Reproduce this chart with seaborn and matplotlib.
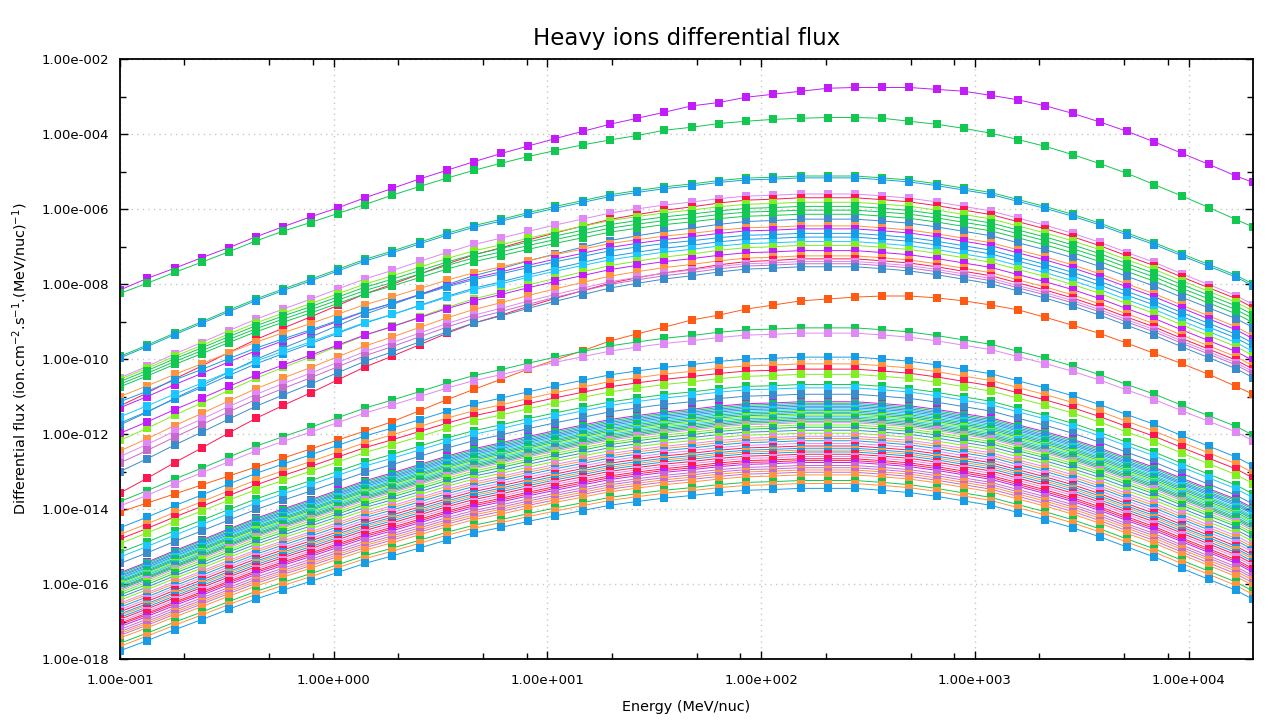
import numpy as np
import pandas as pd
import matplotlib
matplotlib.use('Agg')
import matplotlib.pyplot as plt
import matplotlib.ticker as mticker
import seaborn as sns

# energy grid of the markers (MeV/nuc)
energy = [0.1, 0.134, 0.180, 0.241, 0.323, 0.433, 0.581, 0.779, 1.044, 1.40,
          1.88, 2.52, 3.37, 4.52, 6.07, 8.13, 10.9, 14.6, 19.6, 26.3,
          35.2, 47.3, 63.4, 85.0, 114, 153, 205, 274, 368, 493,
          662, 887, 1190, 1594, 2138, 2866, 3842, 5152, 6907, 9262,
          12417, 16650, 20000]

# log10 flux of the top (purple) curve, read marker by marker
h_flux = [-8.16, -7.85, -7.58, -7.30, -7.03, -6.74, -6.47, -6.21, -5.97, -5.70,
          -5.45, -5.20, -4.97, -4.74, -4.52, -4.32, -4.12, -3.93, -3.74, -3.58,
          -3.42, -3.25, -3.16, -3.02, -2.94, -2.86, -2.78, -2.76, -2.76, -2.76,
          -2.81, -2.86, -2.97, -3.09, -3.25, -3.45, -3.68, -3.93, -4.21, -4.51,
          -4.81, -5.12, -5.29]

# log10 flux of the second (green) curve
he_flux = [-8.25, -7.98, -7.69, -7.42, -7.14, -6.85, -6.59, -6.36, -6.12, -5.88,
           -5.63, -5.40, -5.18, -4.97, -4.78, -4.60, -4.44, -4.29, -4.16, -4.04,
           -3.90, -3.82, -3.72, -3.66, -3.61, -3.58, -3.56, -3.56, -3.58, -3.66,
           -3.74, -3.85, -3.98, -4.15, -4.33, -4.55, -4.79, -5.05, -5.35, -5.65,
           -5.96, -6.28, -6.48]

# log10 flux of the lone orange-red curve
or_flux = [-14.08, -13.84, -13.60, -13.36, -13.12, -12.88, -12.64, -12.40, -12.16, -11.92,
           -11.67, -11.38, -11.09, -10.81, -10.54, -10.27, -10.02, -9.78, -9.52, -9.33,
           -9.15, -8.96, -8.83, -8.67, -8.56, -8.45, -8.40, -8.35, -8.32, -8.32,
           -8.37, -8.45, -8.56, -8.69, -8.89, -9.10, -9.32, -9.58, -9.85, -10.12,
           -10.41, -10.73, -10.94]

# shape of the lowest curve, log10 relative to its peak
ion_shape = [-4.33, -4.06, -3.77, -3.50, -3.22, -2.95, -2.71, -2.48, -2.24, -2.00,
             -1.80, -1.59, -1.38, -1.19, -1.04, -0.88, -0.73, -0.59, -0.45, -0.35,
             -0.26, -0.19, -0.11, -0.05, -0.03, 0.0, 0.0, 0.0, -0.05, -0.11,
             -0.21, -0.33, -0.45, -0.64, -0.83, -1.04, -1.28, -1.55, -1.81, -2.11,
             -2.40, -2.69, -2.93]

# per-ion readings: log10 flux at the peak, at 0.1 MeV/nuc and at 2e4 MeV/nuc
ion_peak = [-5.12, -5.17,
            -5.60, -5.70, -5.82, -5.93, -6.03, -6.14, -6.27,
            -6.45, -6.53, -6.65, -6.75, -6.87, -6.97, -7.11, -7.25, -7.33, -7.40, -7.46, -7.54,
            -9.17, -9.31,
            -9.95, -10.13, -10.27, -10.41, -10.68, -10.77, -10.94,
            -11.14, -11.18, -11.22, -11.26, -11.30, -11.34, -11.38, -11.42, -11.46, -11.50,
            -11.54, -11.58, -11.62, -11.66, -11.70, -11.76, -11.82, -11.90, -11.98, -12.06,
            -12.12, -12.18, -12.25, -12.32, -12.38, -12.43, -12.48, -12.54, -12.60, -12.66,
            -12.71, -12.76, -12.84, -12.90, -12.96, -13.02, -13.09, -13.24, -13.32, -13.45]
ion_left = [-9.93, -9.97,
            -10.50, -11.25, -10.54, -10.60, -10.67, -10.74, -11.76,
            -11.00, -11.30, -11.14, -11.71, -11.54, -12.17, -11.98, -12.45, -13.57, -12.60, -12.77, -13.00,
            -13.80, -13.92,
            -14.50, -14.68, -14.80, -14.92, -15.16, -15.28, -15.45,
            -15.70, -15.73, -15.77, -15.80, -15.84, -15.87, -15.91, -15.94, -15.97, -16.01,
            -16.04, -16.08, -16.11, -16.14, -16.18, -16.23, -16.29, -16.36, -16.43, -16.51,
            -16.56, -16.62, -16.68, -16.74, -16.80, -16.84, -16.89, -16.94, -17.00, -17.05,
            -17.09, -17.14, -17.21, -17.27, -17.32, -17.37, -17.44, -17.58, -17.66, -17.78]
ion_right = [-8.00, -8.05,
             -8.55, -8.63, -8.72, -8.82, -8.92, -9.03, -9.16,
             -9.38, -9.46, -9.58, -9.68, -9.80, -9.91, -10.04, -10.18, -10.27, -10.34, -10.40, -10.50,
             -12.03, -12.18,
             -12.85, -13.03, -13.17, -13.32, -13.60, -13.70, -13.87,
             -13.97, -14.01, -14.06, -14.10, -14.14, -14.19, -14.23, -14.27, -14.32, -14.36,
             -14.40, -14.45, -14.49, -14.53, -14.58, -14.64, -14.70, -14.79, -14.87, -14.95,
             -15.02, -15.08, -15.15, -15.23, -15.29, -15.34, -15.40, -15.46, -15.52, -15.59,
             -15.64, -15.69, -15.78, -15.84, -15.90, -15.97, -16.04, -16.19, -16.28, -16.41]
ion_color = ['gr', 'bl',
             'pk', 'rd', 'lg', 'gr', 'gr', 'gr', 'st',
             'or', 'pu', 'bl', 'bl', 'cy', 'lg', 'pu', 'or', 'rd', 'pk', 'oc', 'st',
             'gr', 'pk',
             'bl', 'or', 'rd', 'lg', 'gr', 'cy', 'st',
             'pu', 'gr', 'bl', 'st', 'bl', 'cy', 'gr', 'bl', 'gr', 'lg',
             'cy', 'gr', 'st', 'gr', 'pk', 'lg', 'gr', 'st', 'lg', 'pk',
             'or', 'bl', 'pk', 'rd', 'bl', 'or', 'bl', 'rd', 'pk', 'rd',
             'rd', 'pu', 'oc', 'oc', 'or', 'oc', 'or', 'gr', 'or', 'bl']

cmap = {'pu': '#c21cfa', 'gr': '#12c850', 'bl': '#179ce6', 'or': '#ff9440',
        'rd': '#ff1850', 'lg': '#80ee20', 'st': '#3a8ccc', 'pk': '#e088f5',
        'oc': '#c66ad0', 'cy': '#1ac8ff', 'ore': '#ff5a14'}

# build the long table
shape = np.array(ion_shape)
top = int(np.argmax(shape))
rows = []
colors = []
names = []


def add(name, logs, col):
    names.append(name)
    colors.append(cmap[col])
    for e, v in zip(energy, logs):
        rows.append((name, e, 10.0 ** v))


add('H', h_flux, 'pu')
add('He', he_flux, 'gr')
for k in range(len(ion_peak)):
    p, l, r = ion_peak[k], ion_left[k], ion_right[k]
    logs = np.where(np.arange(len(shape)) <= top,
                    p + shape * (l - p) / shape[0],
                    p + shape * (r - p) / shape[-1])
    add('ion%d' % k, logs, ion_color[k])
    if k == 20:
        add('ored', or_flux, 'ore')

df = pd.DataFrame(rows, columns=['series', 'energy', 'flux'])

plt.rcParams['font.family'] = ['DejaVu Sans']
fig = plt.figure(figsize=(12.8, 7.2), dpi=100)
ax = fig.add_axes([120 / 1280, 61 / 720, 1133 / 1280, 600 / 720])

sns.lineplot(data=df, x='energy', y='flux', hue='series', hue_order=names,
             palette=colors, marker='s', markersize=5.8, markeredgewidth=0,
             linewidth=0.7, legend=False, sort=False, errorbar=None,
             estimator=None, ax=ax)

ax.set_xscale('log')
ax.set_yscale('log')
ax.set_xlim(0.1, 2e4)
ax.set_ylim(1e-18, 1e-2)


def sci(v, pos=None):
    if v <= 0:
        return ''
    e = int(np.floor(np.log10(v) + 1e-9))
    m = v / 10.0 ** e
    return '%.2fe%+04d' % (m, e)


ax.yaxis.set_major_locator(mticker.FixedLocator([10.0 ** k for k in range(-18, -1, 2)]))
ax.yaxis.set_minor_locator(mticker.FixedLocator([10.0 ** k for k in range(-17, -2, 2)]))
ax.yaxis.set_major_formatter(mticker.FuncFormatter(sci))
ax.yaxis.set_minor_formatter(mticker.NullFormatter())
ax.xaxis.set_major_locator(mticker.FixedLocator([10.0 ** k for k in range(-1, 5)]))
ax.xaxis.set_minor_locator(mticker.FixedLocator(
    [s * 10.0 ** k for k in range(-1, 5) for s in (2, 5, 8) if s * 10.0 ** k < 2e4]))
ax.xaxis.set_major_formatter(mticker.FuncFormatter(sci))
ax.xaxis.set_minor_formatter(mticker.NullFormatter())

ax.tick_params(which='both', direction='in', top=True, right=True,
               labelsize=9.5, width=1, color='black', pad=8)
ax.tick_params(axis='x', which='major', pad=11)
ax.tick_params(which='major', length=6)
ax.tick_params(which='minor', length=4)
ax.grid(which='major', color='#c8c8c8', linestyle=(0, (1, 3)), linewidth=1)
for s in ax.spines.values():
    s.set_linewidth(1.3)
    s.set_color('black')

ax.set_title('Heavy ions differential flux', fontsize=16.5, pad=10)
ax.set_xlabel('Energy (MeV/nuc)', fontsize=10.4, labelpad=9)
ax.set_ylabel('Differential flux (ion.cm$^{-2}$.s$^{-1}$.(MeV/nuc)$^{-1}$)',
              fontsize=10.4, labelpad=8)

fig.savefig('out.png', dpi=100)
